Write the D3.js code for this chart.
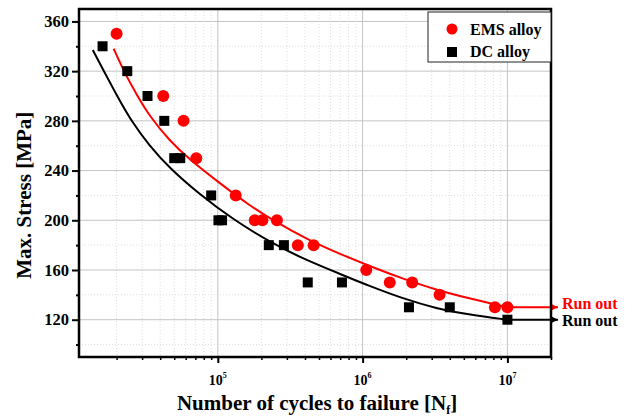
<!DOCTYPE html>
<html>
<head>
<meta charset="utf-8">
<script src="https://cdn.jsdelivr.net/npm/d3@7"></script>
<style>
  body { margin: 0; background: #fff; }
  #graph { width: 632px; height: 418px; }
  svg text { font-family: "Liberation Serif", "Times New Roman", Times, "DejaVu Serif", serif !important; font-weight: bold; }
</style>
</head>
<body>
<div id="graph"></div>
<script>

// EMS alloy test points (cycles to failure, max stress in MPa)
var emsCycles = [2.0e4, 4.2e4, 5.8e4, 7.1e4, 1.33e5, 1.80e5, 2.03e5, 2.56e5, 3.57e5, 4.59e5, 1.06e6, 1.54e6, 2.2e6, 3.4e6, 8.2e6, 1.0e7];
var emsStress = [350, 300, 280, 250, 220, 200, 200, 200, 180, 180, 160, 150, 150, 140, 130, 130];

// DC alloy test points
var dcCycles = [1.6e4, 2.37e4, 3.27e4, 4.27e4, 5.0e4, 5.5e4, 9.0e4, 1.01e5, 1.07e5, 2.25e5, 2.86e5, 4.18e5, 7.2e5, 2.09e6, 4.0e6, 1.0e7];
var dcStress = [340, 320, 300, 280, 250, 250, 220, 200, 200, 180, 180, 150, 150, 130, 130, 120];

// fitted S-N curves
var emsFitCycles = [1.91e4, 2.26e4, 2.79e4, 3.37e4, 4.64e4, 6.37e4, 9.75e4, 1.65e5, 2.4e5, 4.08e5, 6.93e5, 1.31e6, 1.9e6, 3.23e6, 5.48e6, 1.0e7];
var emsFitStress = [338, 319, 300, 284, 264, 249, 232, 212, 200, 185, 173, 160, 153, 144, 137, 130];
var dcFitCycles = [1.37e4, 1.65e4, 2.04e4, 2.52e4, 3.37e4, 4.64e4, 7.47e4, 1.26e5, 2.4e5, 4.08e5, 6.93e5, 1.12e6, 1.9e6, 3.23e6, 5.48e6, 1.0e7];
var dcFitStress = [337, 319, 299, 280, 260, 242, 221, 201, 181, 168, 157, 147, 137, 129, 124, 120];

// run-out level of each alloy at 10^7 cycles
var runoutCycles = 1e7;
var emsRunout = 130;
var dcRunout = 120;

// tick labels
var yTicks = [120, 160, 200, 240, 280, 320, 360];
var yMinor = [100, 140, 180, 220, 260, 300, 340];
var xTicks = [1e5, 1e6, 1e7];

var margin = { top: 9, right: 81, bottom: 61, left: 79 },
    width = 632 - margin.left - margin.right,
    height = 418 - margin.top - margin.bottom;

var x = d3.scaleLog()
    .domain([1.1e4, 2e7])
    .range([0, width]);
var y = d3.scaleLinear()
    .domain([90, 370])
    .range([height, 0]);

var svg = d3.select("#graph").append("svg")
    .attr("width", 632)
    .attr("height", 418)
    .attr("font-family", "Liberation Serif, serif")
    .append("g")
    .attr("transform", "translate(" + margin.left + "," + margin.top + ")");

// minor log ticks (2..9 of every decade) inside the domain
var xMinor = x.ticks().filter(d => xTicks.indexOf(d) < 0);

// grid: minor dotted, major solid
svg.append("g").selectAll("line")
    .data(xMinor)
    .enter().append("line")
    .attr("x1", d => x(d)).attr("x2", d => x(d))
    .attr("y1", 0).attr("y2", height)
    .attr("stroke", "#dedede").attr("stroke-width", 1)
    .attr("stroke-dasharray", "1,2");
svg.append("g").selectAll("line")
    .data(yMinor)
    .enter().append("line")
    .attr("x1", 0).attr("x2", width)
    .attr("y1", d => y(d)).attr("y2", d => y(d))
    .attr("stroke", "#dedede").attr("stroke-width", 1)
    .attr("stroke-dasharray", "1,2");
svg.append("g").selectAll("line")
    .data(xTicks)
    .enter().append("line")
    .attr("x1", d => x(d)).attr("x2", d => x(d))
    .attr("y1", 0).attr("y2", height)
    .attr("stroke", "#c4c4c4").attr("stroke-width", 1);
svg.append("g").selectAll("line")
    .data(yTicks)
    .enter().append("line")
    .attr("x1", 0).attr("x2", width)
    .attr("y1", d => y(d)).attr("y2", d => y(d))
    .attr("stroke", "#c4c4c4").attr("stroke-width", 1);

// fitted curves
var line = d3.line()
    .x(d => x(d[0]))
    .y(d => y(d[1]))
    .curve(d3.curveBasis);

svg.append("path")
    .datum(dcFitCycles.map((n, i) => [n, dcFitStress[i]]))
    .attr("d", line)
    .attr("fill", "none").attr("stroke", "#000").attr("stroke-width", 2);
svg.append("path")
    .datum(emsFitCycles.map((n, i) => [n, emsFitStress[i]]))
    .attr("d", line)
    .attr("fill", "none").attr("stroke", "#ff0000").attr("stroke-width", 2);

// run out arrows
var defs = svg.append("defs");
[["arrRed", "#ff0000"], ["arrBlack", "#000"]].forEach(function (m) {
    defs.append("marker")
        .attr("id", m[0])
        .attr("viewBox", "0 0 10 10")
        .attr("refX", 10).attr("refY", 5)
        .attr("markerUnits", "userSpaceOnUse")
        .attr("markerWidth", 7).attr("markerHeight", 7)
        .attr("orient", "auto")
        .append("path")
        .attr("d", "M0,0L10,5L0,10Z")
        .attr("fill", m[1]);
});

var runouts = [
    { s: dcRunout, color: "#000", marker: "arrBlack", dy: 6 },
    { s: emsRunout, color: "#ff0000", marker: "arrRed", dy: 2 }
];
runouts.forEach(function (r) {
    svg.append("line")
        .attr("x1", x(runoutCycles)).attr("x2", width + 7)
        .attr("y1", y(r.s)).attr("y2", y(r.s))
        .attr("stroke", r.color).attr("stroke-width", 2)
        .attr("marker-end", "url(#" + r.marker + ")");
    svg.append("text")
        .attr("x", width + 11)
        .attr("y", y(r.s) + r.dy)
        .attr("fill", r.color)
        .style("font-size", "16px")
        .text("Run out");
});

// data points
svg.append("g").selectAll("rect")
    .data(dcCycles)
    .enter().append("rect")
    .attr("x", d => x(d) - 5)
    .attr("y", (d, i) => y(dcStress[i]) - 5)
    .attr("width", 10).attr("height", 10)
    .attr("fill", "#000");
svg.append("g").selectAll("circle")
    .data(emsCycles)
    .enter().append("circle")
    .attr("cx", d => x(d))
    .attr("cy", (d, i) => y(emsStress[i]))
    .attr("r", 6)
    .attr("fill", "#ff0000");

// y axis
var yAxis = svg.append("g")
    .call(d3.axisLeft(y).tickValues(yTicks).tickSize(7).tickPadding(3));
yAxis.attr("font-family", null).attr("font-size", null);
yAxis.select(".domain").remove();
yAxis.selectAll("line").attr("stroke-width", 2);
yAxis.selectAll("text")
    .style("font-size", "16.5px")
    .attr("fill", "#000");
var yAxisMinor = svg.append("g")
    .call(d3.axisLeft(y).tickValues(yMinor).tickSize(3).tickFormat(""));
yAxisMinor.select(".domain").remove();
yAxisMinor.selectAll("line").attr("stroke-width", 2);

// x axis
var xAxis = svg.append("g")
    .attr("transform", "translate(0," + height + ")")
    .call(d3.axisBottom(x).tickValues(xTicks).tickSize(6).tickFormat(""));
xAxis.select(".domain").remove();
xAxis.selectAll("line").attr("stroke-width", 2);
var xAxisMinor = svg.append("g")
    .attr("transform", "translate(0," + height + ")")
    .call(d3.axisBottom(x).tickValues(xMinor).tickSize(3).tickFormat(""));
xAxisMinor.select(".domain").remove();
xAxisMinor.selectAll("line").attr("stroke-width", 1.5);

var xLab = svg.append("g").selectAll("text")
    .data(xTicks)
    .enter().append("text")
    .attr("x", d => x(d))
    .attr("y", height + 28)
    .attr("text-anchor", "middle")
    .style("font-size", "14px");
xLab.append("tspan").text("10");
xLab.append("tspan")
    .attr("dy", -7)
    .style("font-size", "8px")
    .text(d => Math.round(Math.log10(d)));

// frame
svg.append("rect")
    .attr("width", width).attr("height", height)
    .attr("fill", "none")
    .attr("stroke", "#000").attr("stroke-width", 2.5);

// axis titles
svg.append("text")
    .attr("transform", "translate(" + (-48) + "," + (y(225) + 6) + ") rotate(-90)")
    .attr("text-anchor", "middle")
    .style("font-size", "21px")
    .text("Max. Stress [MPa]");

var xt = svg.append("text")
    .attr("x", width / 2 + 2)
    .attr("y", height + 53)
    .attr("text-anchor", "middle")
    .style("font-size", "21px");
xt.append("tspan").text("Number of cycles to failure [N");
xt.append("tspan").attr("dy", 4).style("font-size", "12px").text("f");
xt.append("tspan").attr("dy", -4).text("]");

// legend
var legend = svg.append("g")
    .attr("transform", "translate(" + (width - 123) + ",3)");
legend.append("rect")
    .attr("width", 123).attr("height", 50)
    .attr("fill", "#fff")
    .attr("stroke", "#222").attr("stroke-width", 1);
legend.append("circle")
    .attr("cx", 24).attr("cy", 17).attr("r", 5.5)
    .attr("fill", "#ff0000");
legend.append("text")
    .attr("x", 42).attr("y", 23)
    .style("font-size", "16px")
    .text("EMS alloy");
legend.append("rect")
    .attr("x", 19).attr("y", 35).attr("width", 10).attr("height", 10)
    .attr("fill", "#000");
legend.append("text")
    .attr("x", 42).attr("y", 45)
    .style("font-size", "16px")
    .text("DC alloy");

</script>
</body>
</html>
